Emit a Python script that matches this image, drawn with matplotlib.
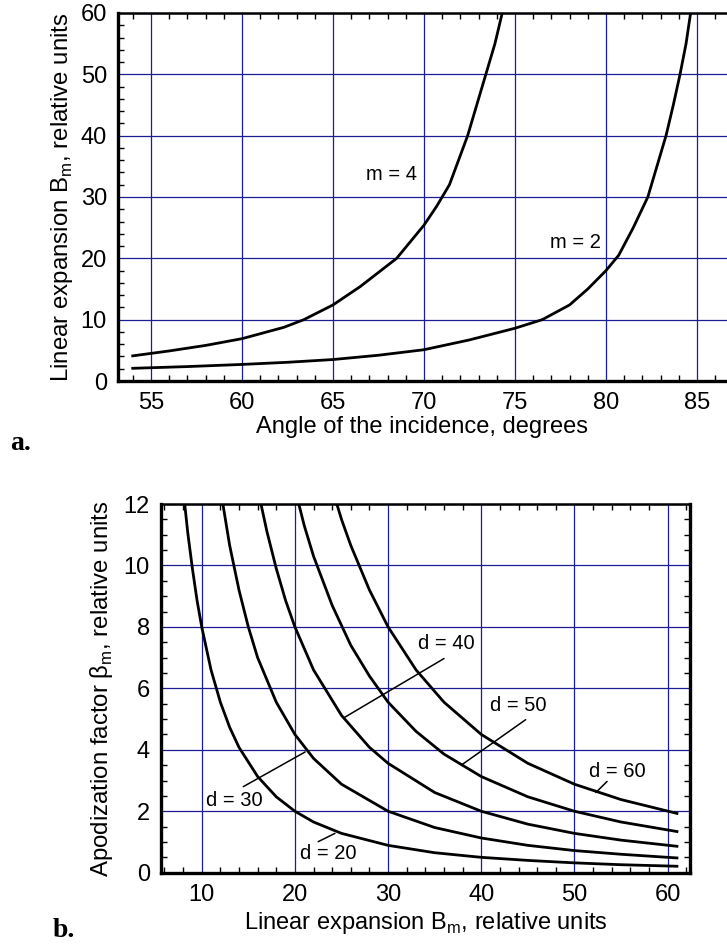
import matplotlib
matplotlib.use("Agg")
import matplotlib.pyplot as plt
from matplotlib.ticker import MultipleLocator

plt.rcParams['font.family'] = ['Liberation Sans', 'DejaVu Sans']

# panel a: linear expansion vs angle of incidence
m4_angle = [54, 56, 58, 60, 62.3, 63.4, 65, 66.5, 68.5, 70, 70.7, 71.4, 71.9, 72.4, 72.9, 73.4, 73.9, 74.3]
m4_B = [4.1, 4.9, 5.8, 6.9, 8.75, 10, 12.4, 15.4, 20, 25.4, 28.5, 32, 36, 40, 45, 50, 55, 60]
m2_angle = [54, 57, 60, 62.5, 65, 67.5, 70, 72.5, 75, 76.5, 78, 79, 80, 80.7, 81.5, 82.3,
            82.8, 83.3, 83.7, 84.07, 84.4, 84.65]
m2_B = [2.07, 2.35, 2.7, 3.05, 3.5, 4.2, 5.1, 6.7, 8.6, 10, 12.4, 15, 18, 20.5, 25, 30,
        35, 40, 45, 50, 55, 60]

# panel b: apodization factor vs linear expansion
d_labels = ["d = 20", "d = 30", "d = 40", "d = 50", "d = 60"]
d20_x = [8, 8.5, 9, 9.5, 10, 11, 12, 13, 14, 16, 18, 20, 22, 25, 30, 35, 40, 45, 50, 55, 61]
d20_y = [12.5, 11.07, 9.9, 8.86, 8.0, 6.6, 5.55, 4.73, 4.08, 3.13, 2.47, 2.0, 1.65, 1.28,
         0.89, 0.65, 0.50, 0.40, 0.32, 0.26, 0.21]
d30_x = [12, 13, 14, 15, 16, 18, 20, 22, 25, 30, 35, 40, 45, 50, 55, 61]
d30_y = [12.5, 10.65, 9.2, 8.0, 7.0, 5.55, 4.5, 3.72, 2.88, 2.0, 1.47, 1.13, 0.89, 0.72, 0.6, 0.48]
d40_x = [16, 17, 18, 19, 20, 22, 25, 28, 30, 35, 40, 45, 50, 55, 61]
d40_y = [12.5, 11.1, 9.9, 8.86, 8.0, 6.6, 5.12, 4.08, 3.56, 2.61, 2.0, 1.58, 1.28, 1.06, 0.86]
d50_x = [20, 21, 22, 24, 26, 28, 30, 33, 36, 40, 45, 50, 55, 61]
d50_y = [12.5, 11.3, 10.3, 8.7, 7.4, 6.4, 5.55, 4.6, 3.86, 3.13, 2.47, 2.0, 1.65, 1.34]
d60_x = [24, 25, 26, 28, 30, 33, 36, 40, 45, 50, 55, 61]
d60_y = [12.5, 11.5, 10.65, 9.2, 8.0, 6.6, 5.55, 4.5, 3.56, 2.88, 2.38, 1.93]

grid_col = '#1c1c96'

fig = plt.figure(figsize=(7.27, 9.47), dpi=100)


def style_axes(ax, xminor, yminor):
    ax.grid(True, color=grid_col, lw=0.9)
    ax.set_axisbelow(True)
    ax.xaxis.set_minor_locator(MultipleLocator(xminor))
    ax.yaxis.set_minor_locator(MultipleLocator(yminor))
    ax.tick_params(which='both', direction='in', top=True, right=True,
                   labelsize=17, color='black')
    ax.tick_params(which='major', length=0, pad=8)
    ax.tick_params(which='minor', length=4, width=1)
    for s in ['left', 'bottom', 'right']:
        ax.spines[s].set_linewidth(2.4)
    ax.spines['top'].set_linewidth(1.8)


# ---- a ----
ax1 = fig.add_axes([118/727, 1-381/947, (727-118)/727, 368/947])
ax1.plot(m4_angle, m4_B, color='black', lw=2)
ax1.plot(m2_angle, m2_B, color='black', lw=2)
ax1.set_xlim(53.19, 86.65)
ax1.set_ylim(0, 60)
ax1.set_xticks([55, 60, 65, 70, 75, 80, 85])
ax1.set_yticks(range(0, 61, 10))
style_axes(ax1, 1, 2)
ax1.spines['right'].set_visible(False)
ax1.tick_params(which='both', right=False)
ax1.set_xlabel("Angle of the incidence, degrees", fontsize=17, labelpad=1)
ax1.set_ylabel("Linear expansion B$_\\mathregular{m}$, relative units", fontsize=17.3, labelpad=4)
ax1.text(68.2, 33.6, "m = 4", fontsize=14.5, ha='center', va='center')
ax1.text(78.3, 22.5, "m = 2", fontsize=14.5, ha='center', va='center')
fig.text(21/727, 1-443/947, "a.", family='Liberation Serif', weight='bold', fontsize=20,
         ha='center', va='center')

# ---- b ----
ax2 = fig.add_axes([161/727, 1-872.7/947, (690-161)/727, 368.7/947])
for xs, ys in [(d20_x, d20_y), (d30_x, d30_y), (d40_x, d40_y), (d50_x, d50_y), (d60_x, d60_y)]:
    ax2.plot(xs, ys, color='black', lw=2)
ax2.set_xlim(5.63, 62.4)
ax2.set_ylim(0, 12)
ax2.set_xticks(range(10, 61, 10))
ax2.set_yticks(range(0, 13, 2))
style_axes(ax2, 2, 0.5)
ax2.set_xlabel("Linear expansion B$_\\mathregular{m}$, relative units", fontsize=17, labelpad=3)
ax2.set_ylabel("Apodization factor β$_\\mathregular{m}$, relative units", fontsize=17.3, labelpad=6)

label_pos = [(23.6, 0.62), (13.5, 2.35), (36.3, 7.46), (44.0, 5.44), (54.6, 3.3)]
leaders = [((22.5, 1.01), (24.3, 1.28)), ((14.46, 2.80), (21.1, 3.93)),
           ((36.0, 6.97), (25.3, 5.05)), ((44.76, 4.98), (37.9, 3.51)),
           ((53.5, 2.97), (52.3, 2.61))]
for lab, (tx, ty), (p0, p1) in zip(d_labels, label_pos, leaders):
    ax2.text(tx, ty, lab, fontsize=14.5, ha='center', va='center')
    ax2.annotate('', xy=p1, xytext=p0, arrowprops=dict(arrowstyle='-', lw=1.1, color='black',
                                                       shrinkA=0, shrinkB=0))
fig.text(64/727, 1-930/947, "b.", family='Liberation Serif', weight='bold', fontsize=20,
         ha='center', va='center')

fig.savefig("out.png", dpi=100)
